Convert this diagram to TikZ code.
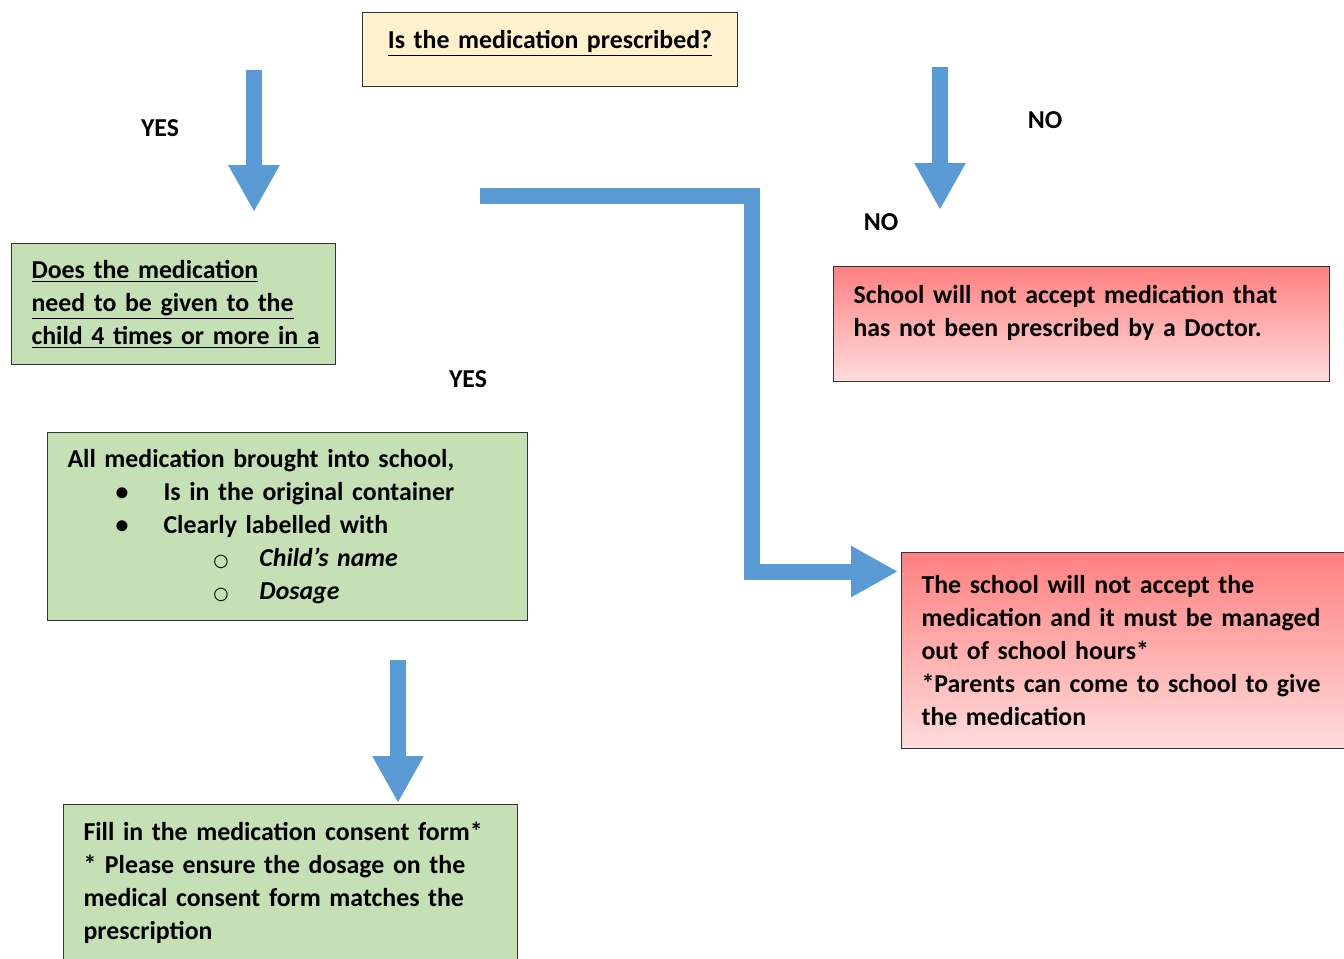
\documentclass[tikz,border=0pt]{standalone}
\usepackage{fontspec}
\setmainfont{Carlito}
\newfontfamily\symfont{DejaVu Sans}
\usetikzlibrary{arrows.meta}

\definecolor{arrowblue}{RGB}{91,155,213}
\definecolor{cream}{RGB}{255,242,204}
\definecolor{leaf}{RGB}{197,224,180}
\definecolor{redtop}{RGB}{255,128,128}
\definecolor{redbot}{RGB}{255,220,220}

\tikzset{
  box/.style={draw=black!80, line width=0.6pt, anchor=north west, align=left,
    inner xsep=0.4cm, inner ysep=0pt, font=\bfseries\fontsize{14.7}{18.8}\selectfont},
  greenbox/.style={box, fill=leaf},
  redbox/.style={box, top color=redtop, bottom color=redbot},
  bigarrow/.style={draw=arrowblue, line width=0.32cm,
    -{Triangle[width=0.96cm,length=0.94cm]}},
  answer/.style={font=\bfseries\fontsize{14.7}{18.8}\selectfont}
}
\newcommand{\ring}{\makebox[9.2mm][l]{\symfont\mdseries\fontsize{10}{12}\selectfont ○}}

\begin{document}
\begin{tikzpicture}[x=0.02cm, y=-0.02cm]
			\useasboundingbox (0,0) rectangle (1344,958);
			
			% question boxes
			\node[box, fill=cream, align=center, text width=6.7cm, minimum height=1.48cm,
			      text depth=0.4cm] (prescribed) at (362,12) {\underline{Is the medication prescribed?}};
			\node[greenbox, text width=5.68cm, minimum height=2.42cm] (often) at (11,243)
			      {\underline{Does the medication}\\ \underline{need to be given to the}\\ \underline{child 4 times or more in a}};
			\node[greenbox, text width=8.8cm, minimum height=3.76cm] (container) at (47,432)
			      {All medication brought into school,\\
			       \hspace*{9.6mm}\makebox[9.6mm][l]{\textbullet}Is in the original container\\
			       \hspace*{9.6mm}\makebox[9.6mm][l]{\textbullet}Clearly labelled with\\
			       \hspace*{29.2mm}\ring\textit{Child’s name}\\
			       \hspace*{29.2mm}\ring\textit{Dosage}};
			\node[greenbox, text width=8.28cm, minimum height=3.12cm] (consent) at (63,804)
			      {Fill in the medication consent form*\\
			       {*} Please ensure the dosage on the\\
			       medical consent form matches the\\
			       prescription};
			
			% refusal boxes
			\node[redbox, text width=9.12cm, minimum height=2.3cm] (doctor) at (833,266)
			      {School will not accept medication that\\
			       has not been prescribed by a Doctor.\\[-0.32cm] \strut};
			\node[redbox, text width=8.38cm, minimum height=3.92cm] (hours) at (901,552)
			      {The school will not accept the\\
			       medication and it must be managed\\
			       out of school hours*\\
			       {*}Parents can come to school to give\\
			       the medication};
			
			% arrows
			\coordinate (yesfrom) at (254,70);
			\coordinate (yesto) at (254,212);
			\coordinate (nofrom) at (940,67);
			\coordinate (noto) at (940,210);
			\coordinate (bendfrom) at (480,195.5);
			\coordinate (bendcorner) at (751.5,571.5);
			\coordinate (bendto) at (898,571.5);
			\coordinate (downfrom) at (398,660);
			\coordinate (downto) at (398,803);
			
			\draw[bigarrow] (yesfrom) -- (yesto);
			\draw[bigarrow] (nofrom) -- (noto);
			\draw[bigarrow] (bendfrom) -| (bendcorner) -- (bendto);
			\draw[bigarrow] (downfrom) -- (downto);
			
			\node[answer] (yesone) at (160,128) {YES};
			\node[answer] (noone) at (1045,120) {NO};
			\node[answer] (notwo) at (881,222) {NO};
			\node[answer] (yestwo) at (468,379) {YES};
		\end{tikzpicture}
\end{document}
